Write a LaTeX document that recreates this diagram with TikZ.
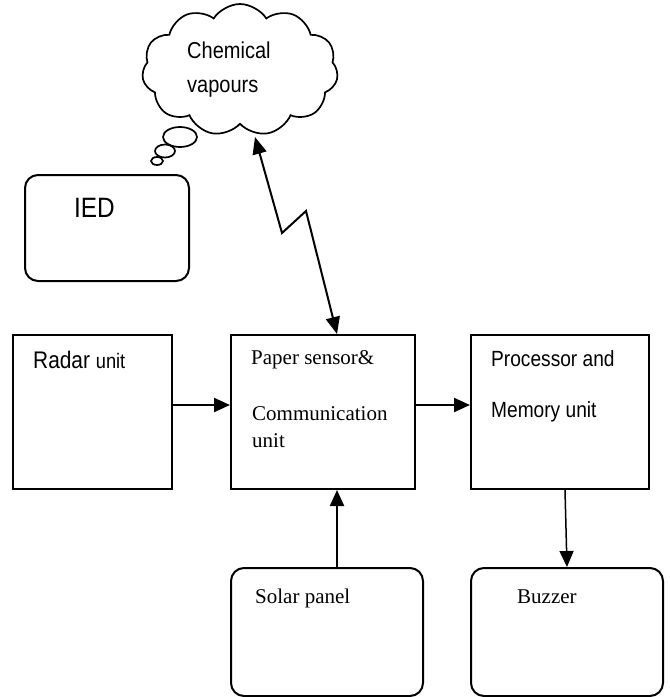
\documentclass[tikz,border=0pt]{standalone}
\usepackage{fontspec}
\setmainfont{Liberation Serif}
\newfontfamily\labelsans[FakeStretch=0.87]{Liberation Sans}
\usetikzlibrary{arrows.meta,shapes.symbols,shapes.geometric}
\begin{document}
\begin{tikzpicture}[x=1pt,y=-1pt,
  box/.style={draw,line width=2pt,inner sep=0pt},
  sqbox/.style={box},
  rbox/.style={box,rounded corners=13pt},
  bubble/.style={draw,line width=1.7pt,ellipse,inner sep=0pt},
  txt/.style={anchor=base west,inner sep=0pt},
  sansA/.style={txt,font=\labelsans\fontsize{23}{27}\selectfont},
  serifA/.style={txt,font=\fontsize{21}{25}\selectfont},
  flow/.style={line width=2.2pt,-{Triangle[length=16pt,width=14pt]}},
  thinflow/.style={line width=1.5pt,-{Triangle[length=16pt,width=14pt]}},
  link/.style={line width=2pt,{Triangle[length=17pt,width=14pt]}-{Triangle[length=17pt,width=14pt]}}]
\useasboundingbox (0,0) rectangle (670,697);

% thought cloud with its trailing bubbles
\node[cloud,draw,line width=1.7pt,cloud puffs=11,cloud puff arc=115,aspect=1.45,
      minimum width=196pt,minimum height=132pt,inner sep=0pt] (cloud) at (240,70) {};
\node[bubble,minimum width=34pt,minimum height=20pt] (b1) at (180,137) {};
\node[bubble,minimum width=20pt,minimum height=13pt] (b2) at (165,151) {};
\node[bubble,minimum width=12pt,minimum height=8pt] (b3) at (157,161) {};
\node[sansA] (chem) at (187,58) {Chemical};
\node[sansA] (vap) at (187,92) {vapours};

% IED
\node[rbox,minimum width=164pt,minimum height=106pt] (ied) at (107,228) {};
\node[txt,font=\labelsans\fontsize{28}{32}\selectfont] (iedt) at (74,217) {IED};

% middle row
\node[sqbox,minimum width=159pt,minimum height=154pt] (radar) at (92.5,412) {};
\node[sqbox,minimum width=184pt,minimum height=154pt] (paper) at (323,412) {};
\node[sqbox,minimum width=178pt,minimum height=154pt] (proc) at (560,412) {};

\node[txt] (radart) at (33,368) {\labelsans\fontsize{24}{28}\selectfont Radar \fontsize{21}{25}\selectfont unit};
\node[serifA] (papert1) at (251,364) {Paper sensor\&};
\node[serifA] (papert2) at (252,420) {Communication};
\node[serifA] (papert3) at (252,447) {unit};
\node[sansA,font=\labelsans\fontsize{22}{26}\selectfont] (proct1) at (491,366) {Processor and};
\node[sansA,font=\labelsans\fontsize{22}{26}\selectfont] (proct2) at (491,417) {Memory unit};

% bottom row
\node[rbox,minimum width=192pt,minimum height=128pt] (solar) at (327,632) {};
\node[rbox,minimum width=192pt,minimum height=128pt] (buzz) at (567,632) {};
\node[serifA] (solart) at (255,603) {Solar panel};
\node[serifA] (buzzt) at (517,603) {Buzzer};

% connectors
\draw[flow] ([yshift=7pt]radar.east) -- ([yshift=7pt]paper.west);
\draw[flow] ([yshift=7pt]paper.east) -- ([yshift=7pt]proc.west);
\draw[flow] ([xshift=10pt]solar.north) -- ([xshift=14pt]paper.south);
\draw[thinflow] ([xshift=5pt]proc.south) -- (buzz.north);

% zig-zag wireless link between the vapour cloud and the sensor
\coordinate (vtip) at (255,137);
\coordinate (k1) at (282,233);
\coordinate (k2) at (306,211);
\draw[link,line join=miter] (vtip) -- (k1) -- (k2) -- ([xshift=14pt]paper.north);
\end{tikzpicture}
\end{document}
